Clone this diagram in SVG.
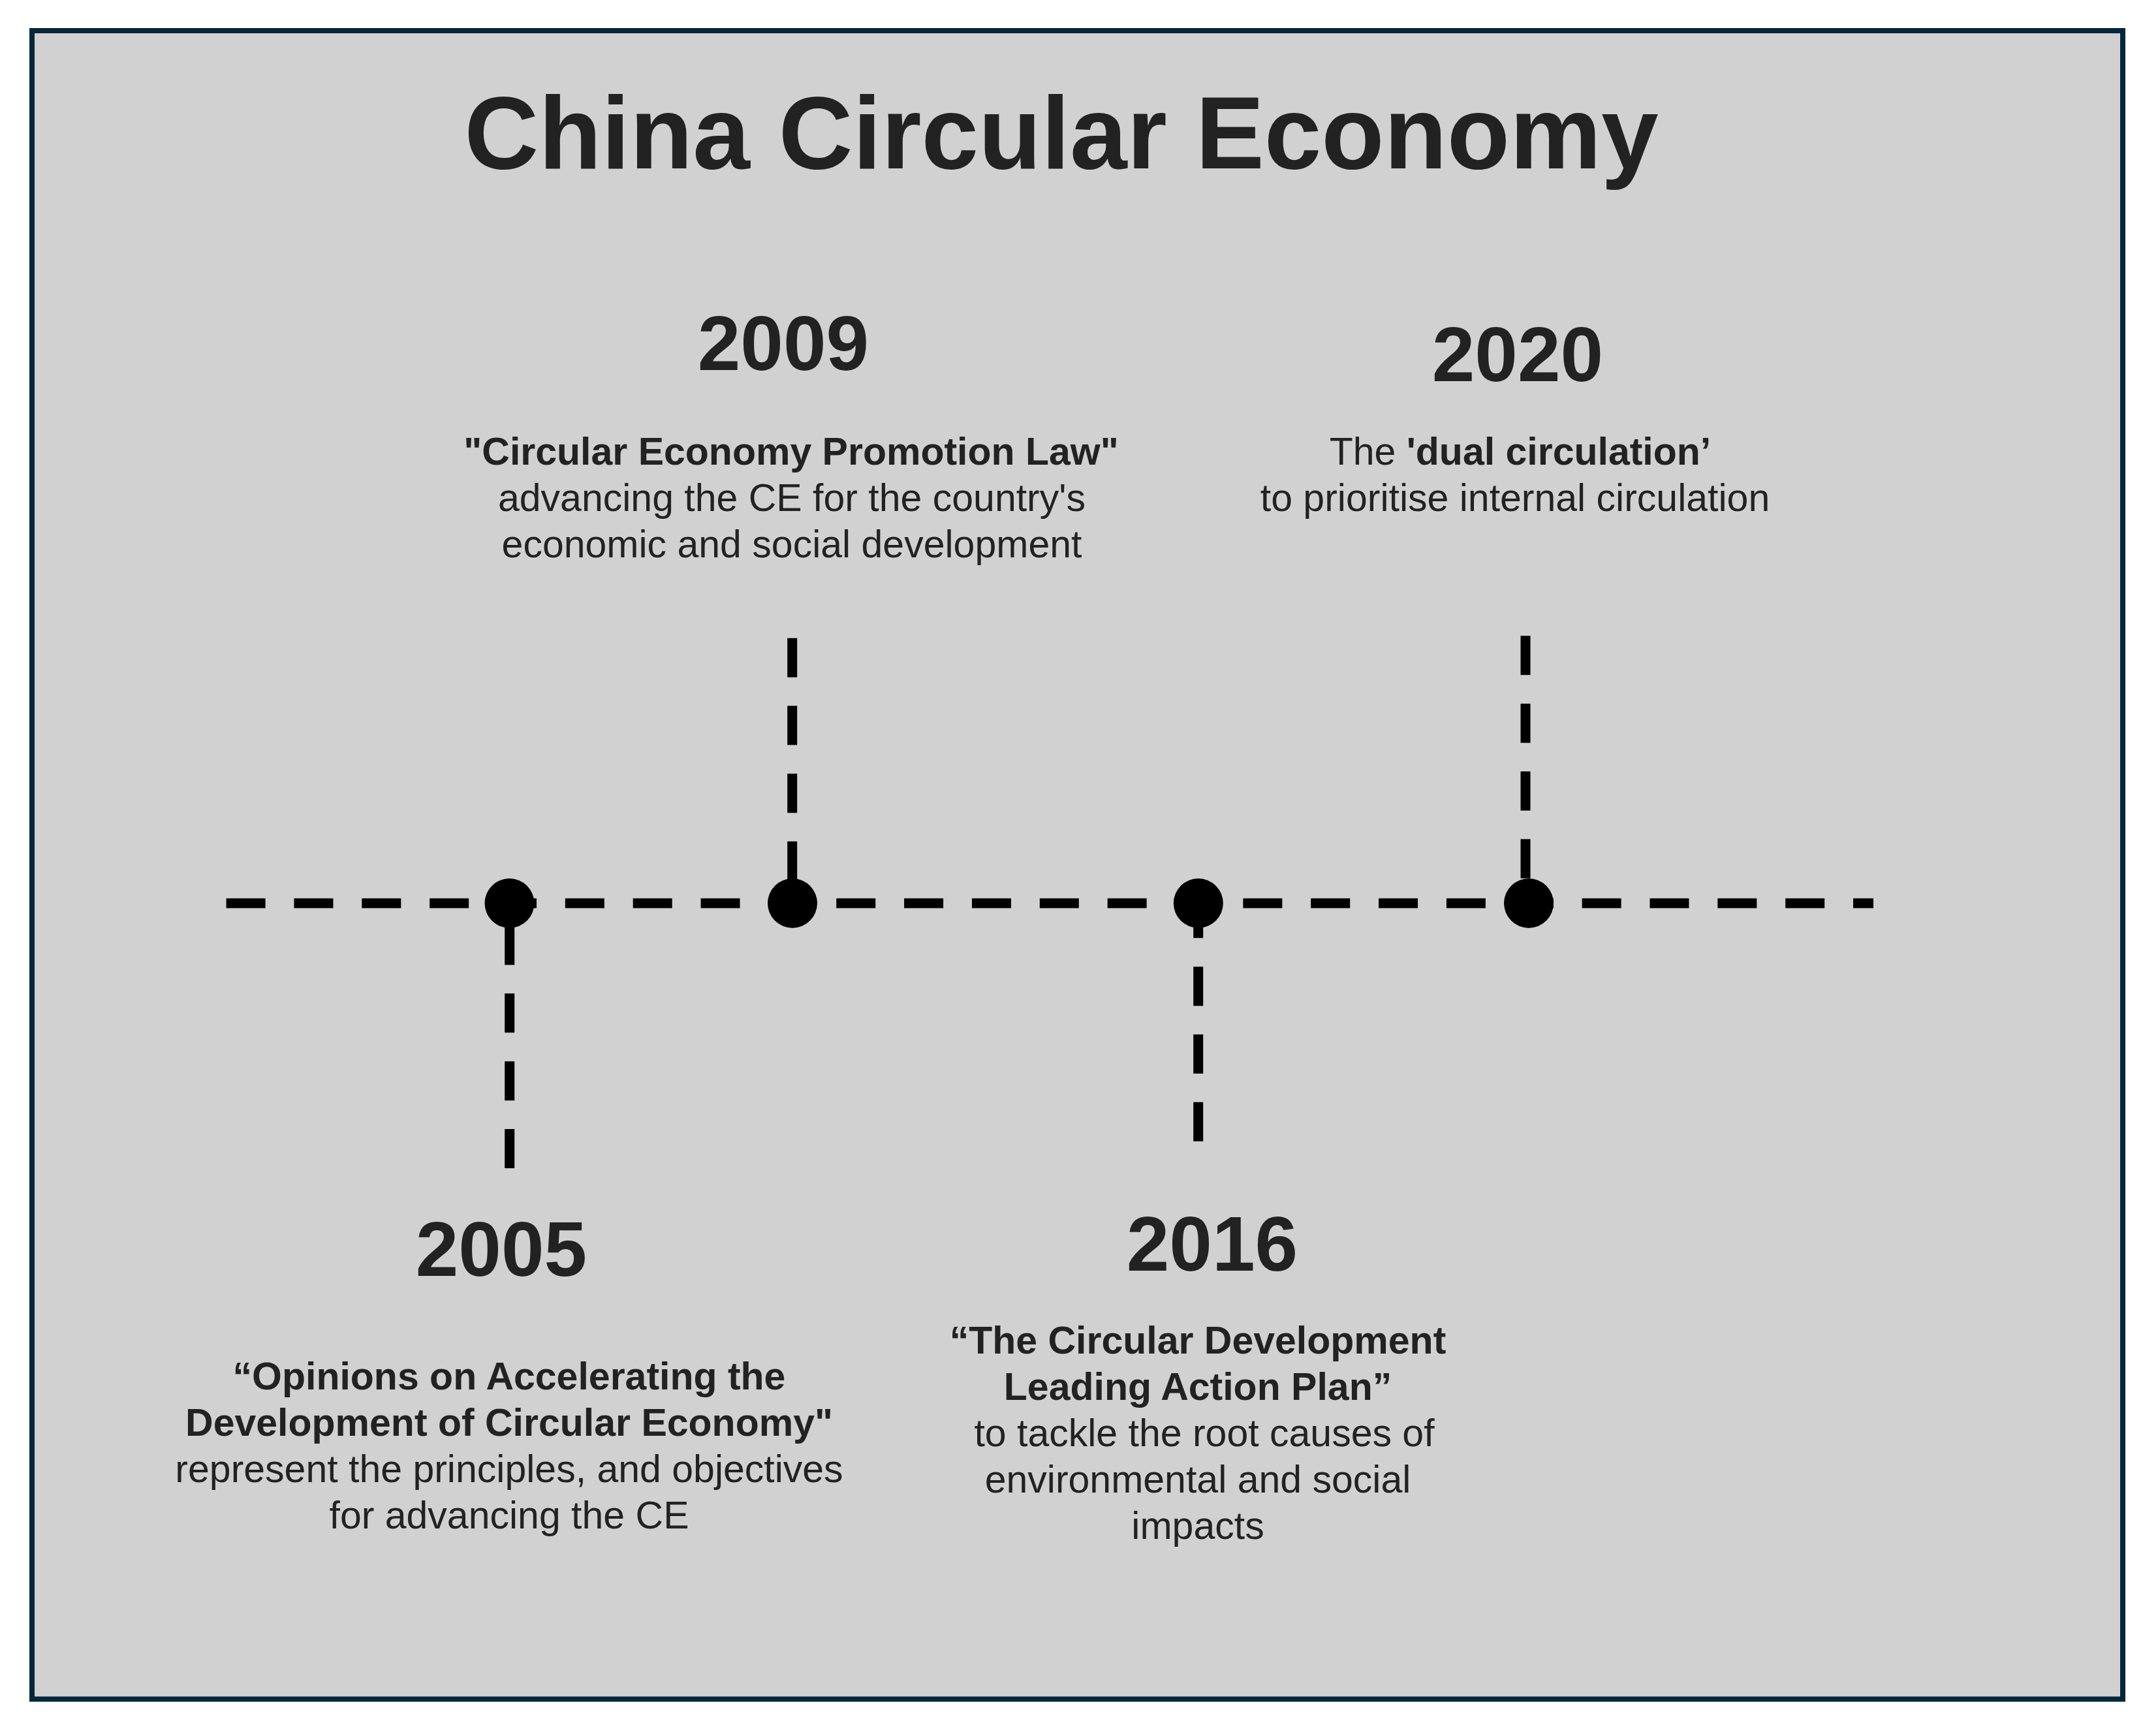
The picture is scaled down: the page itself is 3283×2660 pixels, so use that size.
<svg xmlns="http://www.w3.org/2000/svg" width="3283" height="2660" viewBox="0 0 3283 2660">
<style>
.t{font-family:"Liberation Sans",Arial,sans-serif;fill:#222;text-anchor:middle}
.title{font-size:157.5px;font-weight:bold}
.yr{font-size:118px;font-weight:bold}
.b{font-size:59px;font-weight:bold}
.r{font-size:59px}
.dash{stroke:#000;stroke-width:15;stroke-dasharray:60 43.85;fill:none}
.dot{fill:#000}
</style>
<rect x="0" y="0" width="3283" height="2660" fill="#fff"/>
<rect id="frame" x="49" y="47" width="3203" height="2556.5" fill="#d1d1d1" stroke="#06263a" stroke-width="8"/>
<text id="title" class="t title" x="1626" y="258">China Circular Economy</text>
<g id="connectors">
<line class="dash" x1="346.6" y1="1384" x2="2870" y2="1384"/>
<line class="dash" x1="780.7" y1="1418.5" x2="780.7" y2="1790.5"/>
<line class="dash" x1="1213.7" y1="977.7" x2="1213.7" y2="1349.7"/>
<line class="dash" x1="1835.7" y1="1377.3" x2="1835.7" y2="1749.3"/>
<line class="dash" x1="2337" y1="974.3" x2="2337" y2="1346.3"/>
</g>
<g id="node-2005">
<circle class="dot" cx="780.5" cy="1384" r="38"/>
<text class="t yr" x="768" y="1955">2005</text>
<text class="t b" x="780" y="2129">“Opinions on Accelerating the</text>
<text class="t b" x="780" y="2200">Development of Circular Economy"</text>
<text class="t r" x="780" y="2271">represent the principles, and objectives</text>
<text class="t r" x="780" y="2342">for advancing the CE</text>
</g>
<g id="node-2009">
<circle class="dot" cx="1214" cy="1384" r="38"/>
<text class="t yr" x="1200" y="567">2009</text>
<text class="t b" x="1212" y="712">"Circular Economy Promotion Law"</text>
<text class="t r" x="1213" y="783">advancing the CE for the country's</text>
<text class="t r" x="1213" y="854">economic and social development</text>
</g>
<g id="node-2016">
<circle class="dot" cx="1835.8" cy="1384" r="38"/>
<text class="t yr" x="1857" y="1947">2016</text>
<text class="t b" x="1835" y="2074">“The Circular Development</text>
<text class="t b" x="1835" y="2145">Leading Action Plan”</text>
<text class="t r" x="1845" y="2216">to tackle the root causes of</text>
<text class="t r" x="1835" y="2287">environmental and social</text>
<text class="t r" x="1835" y="2358">impacts</text>
</g>
<g id="node-2020">
<circle class="dot" cx="2342" cy="1384" r="38"/>
<text class="t yr" x="2325" y="584">2020</text>
<text class="t r" x="2329" y="712">The <tspan font-weight="bold">'dual circulation’</tspan></text>
<text class="t r" x="2321" y="783">to prioritise internal circulation</text>
</g>
</svg>
